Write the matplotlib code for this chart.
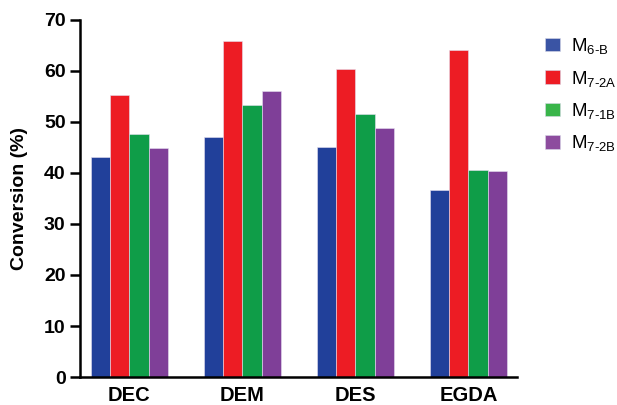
import numpy as np
import matplotlib
matplotlib.use('Agg')
from matplotlib import pyplot as plt
from matplotlib.patches import Patch

plt.rcParams['font.family'] = ['Liberation Sans', 'DejaVu Sans']
plt.rcParams['mathtext.fontset'] = 'custom'
plt.rcParams['mathtext.rm'] = 'Liberation Sans'
plt.rcParams['mathtext.it'] = 'Liberation Sans'
plt.rcParams['mathtext.default'] = 'regular'

# data
categories = ['DEC', 'DEM', 'DES', 'EGDA']
series_names = [r'M$_{\text{6-B}}$', r'M$_{\text{7-2A}}$', r'M$_{\text{7-1B}}$', r'M$_{\text{7-2B}}$']
m6b = [43.1, 47.1, 45.1, 36.7]
m72a = [55.3, 65.9, 60.3, 64.0]
m71b = [47.6, 53.4, 51.6, 40.6]
m72b = [44.8, 56.1, 48.8, 40.3]
yticks = [0, 10, 20, 30, 40, 50, 60, 70]

colors = ['#21409A', '#ED1C24', '#0F9D48', '#7F3F98']
leg_colors = ['#3A54A4', '#ED1C24', '#39B54A', '#8D4C9E']

fig = plt.figure(figsize=(6.17, 4.05), dpi=100)
ax = fig.add_axes([0.130, 0.069, 0.708, 0.882])

x = np.arange(len(categories))
w = 0.171
for i, vals in enumerate([m6b, m72a, m71b, m72b]):
    ax.bar(x + (i - 1.5) * w, vals, w, color=colors[i],
           edgecolor='#E6E0F0', linewidth=0.4)

ax.set_xlim(-0.433, 3.43)
ax.set_ylim(0, 70)
ax.set_yticks(yticks)
ax.set_xticks(x)
ax.set_xticklabels(categories, fontsize=14.5, fontweight='bold')
for lab in ax.get_yticklabels():
    lab.set_fontweight('bold')
    lab.set_fontsize(14)
ax.tick_params(axis='y', direction='out', length=7.5, width=1.8, pad=3)
ax.tick_params(axis='x', length=0, pad=6.5)
ax.spines['top'].set_visible(False)
ax.spines['right'].set_visible(False)
ax.spines['left'].set_linewidth(1.8)
ax.spines['bottom'].set_linewidth(1.8)
ax.set_ylabel('Conversion (%)', fontsize=14, fontweight='bold')
ax.yaxis.set_label_coords(-0.119, 0.5)

handles = [Patch(facecolor=leg_colors[i], edgecolor='#D8D8E8', linewidth=0.4)
           for i in range(4)]
fig.legend(handles, series_names, loc='upper left', bbox_to_anchor=(0.856, 0.952),
           frameon=False, fontsize=13.5, handlelength=0.8, handleheight=0.72,
           handletextpad=0.6, labelspacing=0.66)

plt.savefig('out.png', dpi=100)
